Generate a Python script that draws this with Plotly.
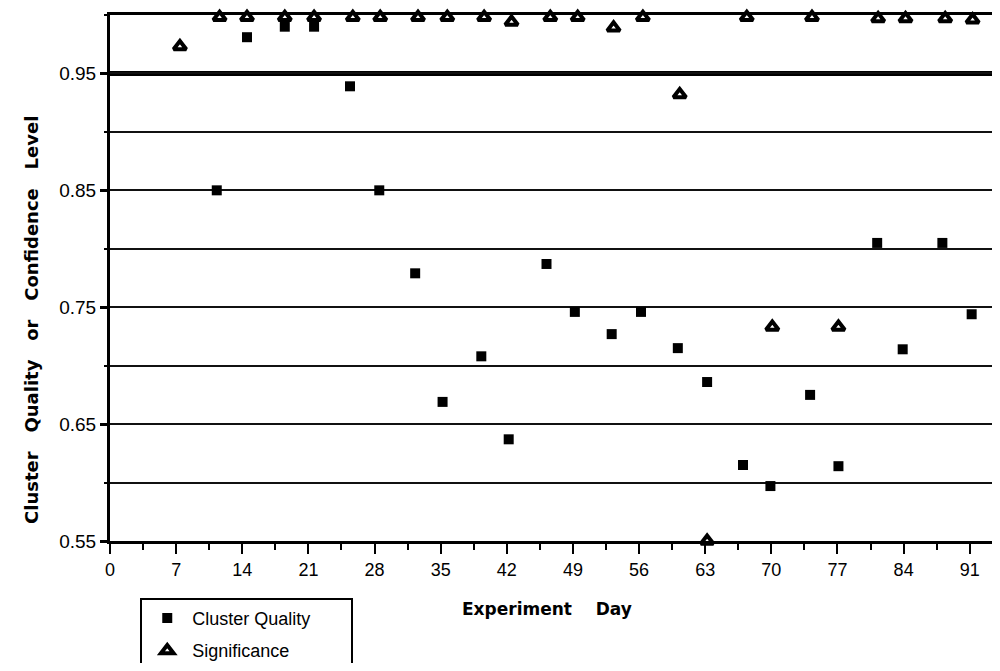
import plotly.graph_objects as go

# values
quality_days = [11.3, 14.5, 18.5, 21.6, 25.4, 28.5, 32.3, 35.2, 39.3, 42.2, 46.2, 49.2,
                53.1, 56.2, 60.1, 63.2, 67.0, 69.9, 74.1, 77.1, 81.2, 83.9, 88.1, 91.2]
quality = [0.850, 0.981, 0.990, 0.990, 0.939, 0.850, 0.779, 0.669, 0.708, 0.637, 0.787, 0.746,
           0.727, 0.746, 0.715, 0.686, 0.615, 0.597, 0.675, 0.614, 0.805, 0.714, 0.805, 0.744]

signif_days = [7.4, 11.6, 14.5, 18.5, 21.6, 25.7, 28.6, 32.6, 35.7, 39.6, 42.5, 46.6, 49.5,
               53.3, 56.4, 60.3, 63.2, 67.4, 70.1, 74.3, 77.1, 81.3, 84.2, 88.4, 91.3]
significance = [0.973, 0.998, 0.998, 0.998, 0.998, 0.998, 0.998, 0.998, 0.998, 0.998, 0.994,
                0.998, 0.998, 0.989, 0.998, 0.932, 0.550, 0.998, 0.733, 0.998, 0.733, 0.997,
                0.997, 0.997, 0.996]

x_ticks = list(range(0, 92, 7))
y_ticks = [0.55, 0.65, 0.75, 0.85, 0.95]
threshold = 0.95

nb = '\u00a0'

fig = go.Figure()

fig.add_trace(go.Scatter(
    x=quality_days, y=quality, mode='markers', name='Cluster Quality' + nb * 7,
    legendgroup='q',
    marker=dict(symbol='square', size=10, color='black'),
    cliponaxis=False))

fig.add_trace(go.Scatter(
    x=signif_days, y=significance, mode='markers', name='Significance',
    legendgroup='s',
    marker=dict(symbol='triangle-up-open', size=11, color='black',
                line=dict(width=4, color='black')),
    cliponaxis=False))

# heavy line at the 0.95 level
fig.add_shape(type='line', xref='paper', x0=0, x1=1, yref='y', y0=threshold, y1=threshold,
              line=dict(color='black', width=5), layer='below')

fig.add_annotation(text='Cluster' + nb * 3 + 'Quality' + nb * 3 + 'or' + nb * 3 +
                   'Confidence' + nb * 3 + 'Level',
                   xref='paper', yref='paper', x=-0.103, y=0.42, textangle=-90,
                   showarrow=False,
                   font=dict(family='DejaVu Sans', size=18, color='black', weight='bold'))

fig.add_annotation(text='Experiment' + nb * 4 + 'Day',
                   xref='paper', yref='paper', x=0.491, y=-0.152,
                   showarrow=False,
                   font=dict(family='DejaVu Sans', size=17, color='black', weight='bold'))

# page has an 8px body margin, so the figure is smaller and shifted
fig.update_layout(
    width=992, height=655,
    margin=dict(l=102, r=0, t=7, b=122, autoexpand=False),
    plot_bgcolor='white', paper_bgcolor='white',
    font=dict(family='Liberation Sans, Arial', color='black'),
    legend=dict(x=0.034, y=-0.108, xanchor='left', yanchor='top',
                bordercolor='black', borderwidth=2, bgcolor='white',
                font=dict(size=18), itemwidth=40, tracegroupgap=6),
    xaxis=dict(range=[0, 94.2], tickvals=x_ticks, ticks='outside', ticklen=10,
               tickwidth=2, tickcolor='black', showgrid=False, zeroline=False,
               showline=True, linecolor='black', linewidth=3, mirror=True,
               tickfont=dict(size=18),
               minor=dict(dtick=3.5, tick0=0, ticks='outside', ticklen=6,
                          tickwidth=2, tickcolor='black', showgrid=False)),
    yaxis=dict(range=[0.55, 1.0], tickvals=y_ticks, ticktext=[f'{v:.2f}' for v in y_ticks],
               ticks='outside', ticklen=7, tickwidth=3, tickcolor='black',
               showgrid=True, gridcolor='#111', gridwidth=2, zeroline=False,
               showline=True, linecolor='black', linewidth=3,
               tickfont=dict(size=19),
               minor=dict(dtick=0.05, tick0=0.55, ticks='outside', ticklen=3,
                          tickwidth=2, tickcolor='black', showgrid=True,
                          gridcolor='#111', gridwidth=2)),
)

fig.write_html('out.html')
